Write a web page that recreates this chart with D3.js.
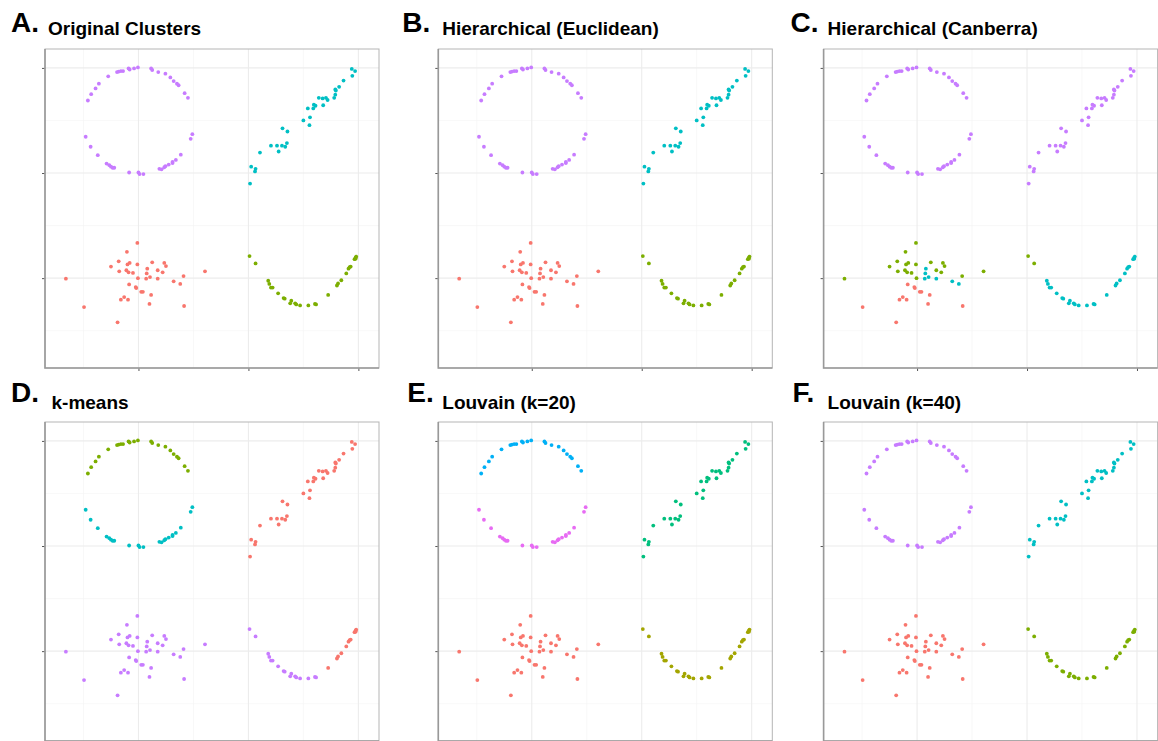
<!DOCTYPE html>
<html>
<head>
<meta charset="utf-8">
<script src="https://cdn.jsdelivr.net/npm/d3@7"></script>
<style>
  body { margin: 0; background: #fff; }
  svg { display: block; font-family: "Liberation Sans", Arial, sans-serif; }
</style>
</head>
<body>
<svg id="chart" width="1158" height="741"></svg>
<script>
// panel letters / titles
const letters = ["A.", "B.", "C.", "D.", "E.", "F."];
const titles = ["Original Clusters", "Hierarchical (Euclidean)", "Hierarchical (Canberra)",
                "k-means", "Louvain (k=20)", "Louvain (k=40)"];

// number of clusters shown in each panel (picks the palette)
const nClusters = [4, 4, 4, 4, 5, 4];

const majorTicks = [0, 2, 4];
const minorTicks = [-1, 1, 3];

// points: [x, y, cluster label for panels A..F]
const circleTop = [
  [-0.18,3.99,"444244"],[-0.16,3.97,"444244"],[-0.08,3.99,"444244"],[-0.01,4.01,"444244"],
  [0.23,3.99,"444244"],[0.25,3.96,"444244"],[0.36,3.92,"444244"],[0.49,3.89,"444244"],
  [0.58,3.82,"444244"],[0.64,3.75,"444244"],[0.70,3.70,"444244"],[0.73,3.67,"444244"],
  [0.84,3.52,"444244"],[0.90,3.43,"444244"],[-0.28,3.94,"444244"],[-0.32,3.94,"444244"],
  [-0.36,3.93,"444244"],[-0.39,3.92,"444244"],[-0.55,3.84,"444244"],[-0.72,3.70,"444244"],
  [-0.78,3.61,"444244"],[-0.86,3.50,"444244"],[-0.92,3.38,"444244"]
];
const circleBottom = [
  [-0.96,2.69,"444354"],[-0.87,2.50,"444354"],[-0.74,2.34,"444354"],[-0.58,2.18,"444354"],
  [-0.53,2.15,"444354"],[-0.50,2.12,"444354"],[-0.47,2.10,"444354"],[-0.44,2.10,"444354"],
  [-0.17,2.01,"444354"],[0.00,2.01,"444354"],[0.02,1.98,"444354"],[0.09,1.98,"444354"],
  [0.38,2.08,"444354"],[0.42,2.07,"444354"],[0.47,2.11,"444354"],[0.49,2.13,"444354"],
  [0.55,2.16,"444354"],[0.62,2.21,"444354"],[0.62,2.19,"444354"],[0.68,2.25,"444354"],
  [0.77,2.35,"444354"],[0.95,2.65,"444354"],[0.98,2.74,"444354"]
];
const linePts = [
  [3.88,3.98,"334133"],[3.94,3.94,"334133"],[3.89,3.85,"334133"],[3.73,3.76,"334133"],
  [3.65,3.64,"334133"],[3.58,3.59,"334133"],[3.59,3.57,"334133"],[3.58,3.49,"334133"],
  [3.56,3.43,"334133"],[3.36,3.29,"334133"],[3.41,3.43,"334133"],[3.44,3.39,"334133"],
  [3.35,3.42,"334133"],[3.28,3.43,"334133"],[3.22,3.28,"334133"],[3.19,3.30,"334133"],
  [3.18,3.23,"334133"],[3.08,3.23,"334133"],[3.12,3.06,"334133"],[3.00,3.00,"334133"],
  [3.11,2.91,"334133"],[2.71,2.79,"334133"],[2.62,2.85,"334133"],[2.70,2.57,"334133"],
  [2.67,2.50,"334133"],[2.61,2.52,"334133"],[2.52,2.52,"334133"],[2.41,2.52,"334133"],
  [2.55,2.41,"334133"],[2.21,2.39,"334133"],[2.05,2.12,"334133"],[2.13,2.08,"334133"],
  [2.12,2.03,"334133"],[2.03,1.80,"334133"]
];
const blobPts = [
  [-0.02,0.67,"112411"],[-0.21,0.50,"112411"],[-0.36,0.32,"112411"],[-0.50,0.22,"112411"],
  [-0.20,0.26,"112411"],[-0.16,0.29,"112411"],[-0.35,0.13,"112411"],[-0.22,0.15,"112411"],
  [-0.18,0.11,"112411"],[-0.10,0.10,"112411"],[-0.02,0.26,"112411"],[0.25,0.30,"112411"],
  [0.47,0.29,"112411"],[0.50,0.23,"112411"],[0.16,0.18,"113411"],[0.35,0.15,"112411"],
  [0.44,0.11,"112411"],[0.15,0.09,"113411"],[0.21,0.02,"113411"],[-0.01,0.00,"112411"],
  [0.14,-0.01,"113411"],[0.35,-0.01,"113411"],[0.82,0.04,"112411"],[1.21,0.13,"112411"],
  [-1.32,-0.01,"112411"],[-0.17,-0.12,"111411"],[-0.05,-0.17,"111411"],[-0.04,-0.19,"111411"],
  [0.05,-0.26,"111411"],[0.08,-0.26,"111411"],[0.64,-0.06,"113411"],[0.76,-0.11,"113411"],
  [0.23,-0.32,"111411"],[-0.26,-0.36,"111411"],[-0.32,-0.41,"111411"],[-0.19,-0.41,"111411"],
  [0.20,-0.49,"111411"],[0.83,-0.53,"111411"],[-0.99,-0.55,"111411"],[-0.38,-0.84,"111411"]
];
const parabolaPts = [
  [2.02,0.42,"222422"],[2.13,0.28,"222422"],[2.36,-0.05,"223422"],[2.38,-0.11,"223422"],
  [2.41,-0.18,"223422"],[2.44,-0.18,"223422"],[2.54,-0.29,"223422"],[2.64,-0.38,"223422"],
  [2.66,-0.39,"223422"],[2.78,-0.43,"223422"],[2.76,-0.48,"223422"],[2.85,-0.48,"223422"],
  [2.87,-0.50,"223422"],[2.94,-0.52,"223422"],[3.09,-0.52,"223422"],[3.21,-0.49,"223422"],
  [3.23,-0.50,"223422"],[3.45,-0.32,"223122"],[3.61,-0.14,"223122"],[3.63,-0.10,"223122"],
  [3.69,-0.04,"223122"],[3.78,0.09,"223122"],[3.82,0.18,"223122"],[3.86,0.22,"223122"],
  [3.84,0.21,"223122"],[3.93,0.36,"223122"],[3.95,0.37,"223122"],[3.96,0.41,"223122"],
  [3.95,0.39,"223122"]
];

const allPts = [...circleTop, ...circleBottom, ...linePts, ...blobPts, ...parabolaPts];

const hue4 = ["#F8766D", "#7CAE00", "#00BFC4", "#C77CFF"];
const hue5 = ["#F8766D", "#A3A500", "#00BF7D", "#00B0F6", "#E76BF3"];

// layout
const colX = [0, 393.3, 778.6];
const rowY = [0, 373];
const plotL = 45, plotR = 379, plotT = 49, plotB = 368;
const letterX = [11, 9, 12, 11, 14, 14];
const titleX = [48, 49, 49, 51.5, 49, 49];

const svg = d3.select("#chart");

letters.forEach((letter, i) => {
  const ox = colX[i % 3], oy = rowY[Math.floor(i / 3)];
  const g = svg.append("g").attr("transform", `translate(${ox},${oy})`);

  const x = d3.scaleLinear([-1.70, 4.375], [plotL, plotR]);
  const y = d3.scaleLinear([-1.71, 4.36], [plotB, plotT]);

  // minor grid
  g.append("g").selectAll("line").data(minorTicks).join("line")
    .attr("x1", d => x(d)).attr("x2", d => x(d))
    .attr("y1", plotT).attr("y2", plotB)
    .attr("stroke", "#f3f3f3").attr("stroke-width", 0.6);
  g.append("g").selectAll("line").data(minorTicks).join("line")
    .attr("y1", d => y(d)).attr("y2", d => y(d))
    .attr("x1", plotL).attr("x2", plotR)
    .attr("stroke", "#f3f3f3").attr("stroke-width", 0.6);
  // major grid
  g.append("g").selectAll("line").data(majorTicks).join("line")
    .attr("x1", d => x(d)).attr("x2", d => x(d))
    .attr("y1", plotT).attr("y2", plotB)
    .attr("stroke", "#ececec").attr("stroke-width", 1.1);
  g.append("g").selectAll("line").data(majorTicks).join("line")
    .attr("y1", d => y(d)).attr("y2", d => y(d))
    .attr("x1", plotL).attr("x2", plotR)
    .attr("stroke", "#ececec").attr("stroke-width", 1.1);

  // axes: ticks only, no labels
  const ax = g.append("g").attr("transform", `translate(0,${plotB})`)
    .call(d3.axisBottom(x).tickValues(majorTicks).tickSize(3).tickFormat(""));
  const ay = g.append("g").attr("transform", `translate(${plotL},0)`)
    .call(d3.axisLeft(y).tickValues(majorTicks).tickSize(3).tickFormat(""));
  [ax, ay].forEach(a => {
    a.select(".domain").remove();
    a.selectAll("line").attr("stroke", "#555");
  });

  // panel border
  g.append("rect")
    .attr("x", plotL).attr("y", plotT)
    .attr("width", plotR - plotL).attr("height", plotB - plotT)
    .attr("fill", "none").attr("stroke", "#b5b5b5").attr("stroke-width", 1);
  g.append("path")
    .attr("d", `M${plotL},${plotT}V${plotB}H${plotR}`)
    .attr("fill", "none").attr("stroke", "#999").attr("stroke-width", 1.6);

  const pal = nClusters[i] === 5 ? hue5 : hue4;
  g.append("g").selectAll("circle").data(allPts).join("circle")
    .attr("cx", d => x(d[0]))
    .attr("cy", d => y(d[1]))
    .attr("r", 1.9)
    .attr("fill", d => pal[+d[2][i] - 1]);

  // titles
  const isBottom = i >= 3;
  g.append("text")
    .attr("x", letterX[i])
    .attr("y", isBottom ? 29 : 32)
    .attr("font-size", 28).attr("font-weight", "bold").attr("fill", "#000")
    .text(letter);
  g.append("text")
    .attr("x", titleX[i])
    .attr("y", isBottom ? 36 : 35)
    .attr("font-size", 19).attr("font-weight", "bold").attr("fill", "#000")
    .text(titles[i]);
});
</script>
</body>
</html>
